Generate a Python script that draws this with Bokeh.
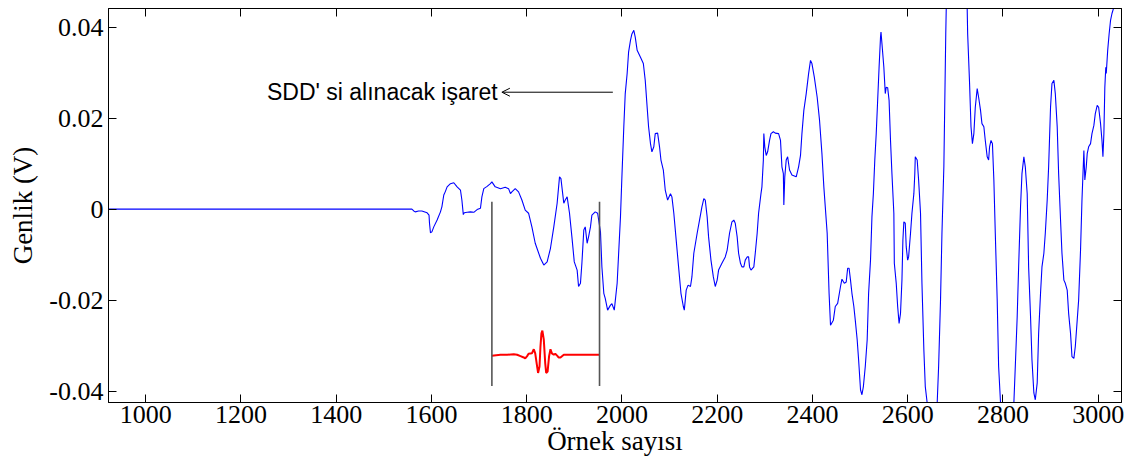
from bokeh.plotting import figure
from bokeh.models import (Range1d, FixedTicker, LinearAxis, Arrow, OpenHead, Label)
from bokeh.embed import file_html
from bokeh.resources import INLINE

# Measured signal (sample index, amplitude in volts)
sample = [922, 1559, 1563, 1566, 1573, 1580, 1591, 1595, 1596, 1598, 1601, 1605, 1612,
          1619, 1622, 1626, 1629, 1633, 1640, 1647, 1654, 1661, 1664, 1667, 1669, 1675,
          1682, 1689, 1696, 1703, 1706, 1710, 1717, 1724, 1727, 1734, 1745, 1755, 1762,
          1766, 1769, 1776, 1783, 1790, 1797, 1804, 1811, 1818, 1829, 1836, 1843, 1850,
          1857, 1864, 1869, 1872, 1878, 1881, 1885, 1890, 1895, 1900, 1906, 1909, 1913,
          1916, 1920, 1923, 1927, 1930, 1934, 1937, 1944, 1949, 1955, 1958, 1962, 1965,
          1970, 1976, 1979, 1984, 1990, 1997, 2000, 2004, 2007, 2011, 2014, 2018, 2021,
          2025, 2028, 2032, 2039, 2045, 2049, 2053, 2056, 2060, 2063, 2067, 2070, 2075,
          2079, 2082, 2087, 2091, 2096, 2102, 2105, 2109, 2114, 2119, 2124, 2129, 2131,
          2135, 2139, 2144, 2147, 2151, 2158, 2163, 2168, 2172, 2175, 2179, 2182, 2187,
          2192, 2196, 2200, 2203, 2210, 2217, 2221, 2226, 2231, 2235, 2238, 2242, 2245,
          2249, 2252, 2256, 2259, 2263, 2266, 2268, 2271, 2277, 2280, 2284, 2287, 2292,
          2294, 2297, 2298, 2300, 2303, 2306, 2310, 2313, 2318, 2322, 2329, 2333, 2336,
          2339, 2340, 2342, 2345, 2348, 2352, 2357, 2366, 2371, 2375, 2378, 2382, 2387,
          2392, 2396, 2399, 2404, 2410, 2415, 2420, 2424, 2431, 2435, 2438, 2444, 2448,
          2453, 2459, 2462, 2467, 2471, 2474, 2477, 2480, 2483, 2487, 2490, 2494, 2497,
          2501, 2504, 2507, 2511, 2515, 2518, 2522, 2525, 2528, 2531, 2534, 2537, 2540,
          2543, 2544, 2546, 2550, 2553, 2555, 2558, 2561, 2564, 2567, 2571, 2572, 2576,
          2579, 2582, 2585, 2588, 2590, 2592, 2595, 2597, 2600, 2602, 2606, 2609, 2613,
          2615, 2616, 2620, 2623, 2627, 2630, 2634, 2637, 2641, 2648, 2655, 2662, 2665,
          2669, 2672, 2676, 2678, 2680, 2681, 2692, 2703, 2714, 2725, 2726, 2730, 2733,
          2736, 2739, 2742, 2746, 2749, 2753, 2756, 2760, 2763, 2767, 2770, 2772, 2775,
          2778, 2781, 2784, 2788, 2791, 2795, 2803, 2812, 2823, 2826, 2830, 2833, 2837,
          2840, 2844, 2847, 2851, 2854, 2858, 2861, 2865, 2868, 2872, 2875, 2879, 2882,
          2886, 2889, 2893, 2896, 2900, 2903, 2907, 2910, 2914, 2917, 2921, 2924, 2928,
          2931, 2935, 2938, 2942, 2945, 2949, 2952, 2956, 2959, 2963, 2966, 2970, 2972,
          2975, 2977, 2980, 2984, 2987, 2991, 2994, 2998, 3001, 3005, 3008, 3010, 3012,
          3014, 3016, 3017, 3020, 3023, 3026, 3029, 3033, 3049]
amplitude = [0.0, 0.0, -0.0004, -0.0006, -0.0004, -0.0004, -0.0008, -0.0013, -0.0031,
             -0.0052, -0.005, -0.0039, -0.0024, -0.0006, 0.0005, 0.0031, 0.0038, 0.0049,
             0.0056, 0.0058, 0.0049, 0.0042, 0.002, -0.0012, -0.0008, -0.0007, -0.0006,
             -0.0007, -0.0001, 0.0002, 0.0027, 0.0045, 0.005, 0.0056, 0.006, 0.0049,
             0.0045, 0.0048, 0.0045, 0.0034, 0.0038, 0.0045, 0.0038, 0.002, -0.0002,
             -0.0009, -0.0039, -0.0075, -0.0108, -0.0123, -0.0116, -0.0086, -0.0039,
             0.0013, 0.0071, 0.0067, 0.0013, 0.002, 0.0027, -0.0009, -0.0061, -0.0116,
             -0.0134, -0.017, -0.0163, -0.0119, -0.0046, -0.0039, -0.0075, -0.0061,
             -0.0039, -0.0013, -0.0006, -0.0009, -0.005, -0.0127, -0.0185, -0.0196,
             -0.0222, -0.0211, -0.0208, -0.0222, -0.0163, -0.0017, 0.0071, 0.0181,
             0.0254, 0.0298, 0.0345, 0.0371, 0.0385, 0.0393, 0.0378, 0.0349, 0.0334,
             0.032, 0.0283, 0.0224, 0.0181, 0.0144, 0.0126, 0.0137, 0.0166, 0.0167,
             0.0137, 0.0108, 0.0086, 0.0042, 0.002, 0.0034, 0.0027, -0.0009, -0.0068,
             -0.0127, -0.0185, -0.0214, -0.0222, -0.0178, -0.0167, -0.017, -0.0149,
             -0.0097, -0.0053, -0.0024, 0.0005, 0.0023, 0.002, -0.0017, -0.0061, -0.0112,
             -0.0149, -0.017, -0.0156, -0.0134, -0.0119, -0.0105, -0.009, -0.0053,
             -0.0028, -0.0024, -0.0031, -0.0061, -0.0097, -0.0119, -0.0127, -0.0127,
             -0.0112, -0.0105, -0.0105, -0.0127, -0.0134, -0.0127, -0.0097, -0.0053,
             -0.0009, 0.0034, 0.0049, 0.0108, 0.0166, 0.0137, 0.0118, 0.0126, 0.0151,
             0.0166, 0.017, 0.0167, 0.0166, 0.0151, 0.0093, 0.0078, 0.0009, 0.0071,
             0.0108, 0.0115, 0.0086, 0.0075, 0.0071, 0.0093, 0.0118, 0.0166, 0.0217,
             0.0254, 0.0298, 0.0327, 0.032, 0.029, 0.0246, 0.0195, 0.0122, 0.0049,
             -0.0053, -0.0185, -0.0255, -0.0244, -0.0214, -0.0207, -0.017, -0.0154,
             -0.0163, -0.016, -0.013, -0.013, -0.0156, -0.0185, -0.0214, -0.0244,
             -0.0287, -0.0331, -0.0397, -0.0408, -0.039, -0.0346, -0.0287, -0.0185,
             -0.0112, -0.0017, 0.0034, 0.0108, 0.0166, 0.0239, 0.0312, 0.0378, 0.0389,
             0.0364, 0.0312, 0.0254, 0.0268, 0.0267, 0.0239, 0.0151, 0.0078, -0.0009,
             -0.0119, -0.0163, -0.0214, -0.0251, -0.0229, -0.0156, -0.0068, -0.0028,
             -0.0031, -0.0083, -0.0112, -0.0105, -0.0053, -0.0009, 0.0034, 0.0078,
             0.0115, 0.0108, 0.0064, -0.0009, -0.0163, -0.0309, -0.039, -0.0426, -0.049,
             -0.0495, -0.0426, -0.0346, -0.02, -0.0053, 0.0093, 0.0239, 0.0385, 0.044,
             0.054, 0.058, 0.054, 0.044, 0.0385, 0.0276, 0.0181, 0.0144, 0.0166, 0.0224,
             0.0265, 0.0246, 0.0217, 0.0188, 0.0181, 0.0151, 0.0115, 0.0108, 0.0137,
             0.0151, 0.0144, 0.0064, -0.0053, -0.02, -0.0346, -0.0426, -0.048, -0.0485,
             -0.0426, -0.0346, -0.0236, -0.0127, 0.0005, 0.0078, 0.0115, 0.0093, 0.0034,
             -0.0127, -0.0236, -0.0331, -0.0404, -0.0419, -0.0382, -0.0273, -0.0185,
             -0.0127, -0.0097, -0.0053, 0.002, 0.0093, 0.0224, 0.0276, 0.0283, 0.0254,
             0.0181, 0.0078, -0.0024, -0.0097, -0.0156, -0.0163, -0.0178, -0.0229,
             -0.0273, -0.0324, -0.0328, -0.0302, -0.0244, -0.02, -0.009, 0.002, 0.0129,
             0.0064, 0.0093, 0.0122, 0.0137, 0.0144, 0.0166, 0.0184, 0.021, 0.0228,
             0.0224, 0.0188, 0.0151, 0.0115, 0.0166, 0.0268, 0.0312, 0.0298, 0.0349,
             0.0385, 0.0415, 0.043, 0.0444, 0.047]

# Extracted pulse (drawn offset below the signal)
pulse_sample = [1727, 1745, 1759, 1773, 1780, 1787, 1794, 1797, 1801, 1804, 1811, 1815,
                1818, 1822, 1824, 1827, 1829, 1831, 1833, 1836, 1839, 1841, 1844, 1847,
                1850, 1853, 1857, 1860, 1864, 1867, 1871, 1878, 1892, 1906, 1920, 1934,
                1953]
pulse_amplitude = [-0.0322, -0.032, -0.032, -0.0319, -0.032, -0.0323, -0.0326, -0.0328,
                   -0.0323, -0.0318, -0.0317, -0.0308, -0.0317, -0.0346, -0.036, -0.0346,
                   -0.0302, -0.0273, -0.0267, -0.0287, -0.0339, -0.036, -0.0357, -0.0324,
                   -0.0308, -0.0317, -0.032, -0.0318, -0.0322, -0.0326, -0.0326, -0.032,
                   -0.032, -0.032, -0.032, -0.032, -0.032]

# Window boundaries
window_start = 1727
window_end = 1953
window_top = 0.0016
window_bottom = -0.0389

# Annotation
note_text = "SDD' si alınacak işaret"
note_y = 0.0257
arrow_from = 1981
arrow_to = 1748
note_right = 1739

x_ticks = [1000, 1200, 1400, 1600, 1800, 2000, 2200, 2400, 2600, 2800, 3000]
y_ticks = [-0.04, -0.02, 0, 0.02, 0.04]
y_tick_labels = ["-0.04", "-0.02", "0", "0.02", "0.04"]

SERIF = "Liberation Serif"

p = figure(width=1133, height=464, output_backend="svg", toolbar_location=None,
           x_range=Range1d(922, 3049), y_range=Range1d(-0.0425, 0.0441),
           min_border_left=108, min_border_right=12, min_border_top=8,
           min_border_bottom=62, background_fill_color="white",
           border_fill_color="white", outline_line_color="black",
           outline_line_width=1)
p.grid.visible = False

p.line(sample, amplitude, line_color="#0000ff", line_width=1.1)
p.line(pulse_sample, pulse_amplitude, line_color="#ff0000", line_width=2)
p.segment(x0=[window_start, window_end], y0=[window_bottom, window_bottom],
          x1=[window_start, window_end], y1=[window_top, window_top],
          line_color="#555555", line_width=1.6)

p.add_layout(Arrow(end=OpenHead(size=8, line_width=1, line_color="black"),
                   x_start=arrow_from, y_start=note_y, x_end=arrow_to, y_end=note_y,
                   line_color="black", line_width=1))
p.add_layout(Label(x=note_right, y=note_y, text=note_text, text_align="right",
                   text_baseline="middle", text_font="Liberation Sans",
                   text_font_size="23px", text_color="black"))


def style(ax):
    ax.major_tick_in = 8
    ax.major_tick_out = 0
    ax.minor_tick_in = 0
    ax.minor_tick_out = 0
    ax.axis_line_color = "black"
    ax.major_tick_line_color = "black"
    ax.major_label_text_font = SERIF
    ax.major_label_text_font_size = "26px"
    ax.major_label_text_color = "black"
    ax.axis_label_text_font = SERIF
    ax.axis_label_text_font_size = "27px"
    ax.axis_label_text_font_style = "normal"
    ax.axis_label_text_color = "black"


def mirror(ticks):
    # label-free axis: inward ticks only, carried as minor ticks
    ax = LinearAxis(ticker=FixedTicker(ticks=[], minor_ticks=ticks))
    ax.axis_line_color = "black"
    ax.major_tick_in = 0
    ax.major_tick_out = 0
    ax.minor_tick_in = 8
    ax.minor_tick_out = 0
    ax.minor_tick_line_color = "black"
    ax.major_label_standoff = 0
    return ax


xa = p.xaxis[0]
xa.ticker = FixedTicker(ticks=x_ticks)
xa.axis_label = "Örnek sayısı"
style(xa)
xa.major_label_standoff = 3
xa.axis_label_standoff = 0

ya = p.yaxis[0]
ya.ticker = FixedTicker(ticks=y_ticks)
ya.major_label_overrides = dict(zip(y_ticks, y_tick_labels))
ya.axis_label = "Genlik (V)"
style(ya)
ya.major_label_standoff = 5
ya.axis_label_standoff = 8

p.add_layout(mirror(x_ticks), "above")
p.add_layout(mirror(y_ticks), "right")

open("out.html", "w").write(file_html(p, INLINE))
